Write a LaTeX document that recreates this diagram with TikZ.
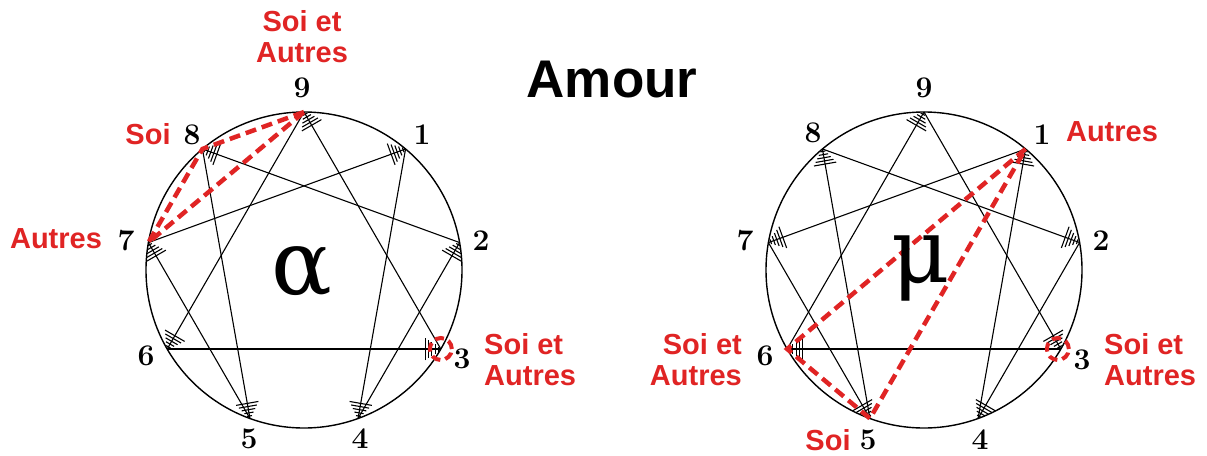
\documentclass[tikz,border=0pt]{standalone}
\usepackage{fontspec}
\usetikzlibrary{calc}
\newfontfamily\labfont{Liberation Sans}
\newfontfamily\grkfont{DejaVu Serif}
\definecolor{accred}{RGB}{224,36,36}
\tikzset{
  ring/.style={line width=1.4pt},
  chord/.style={line width=1.1pt},
  hatchline/.style={line width=1.1pt},
  redpath/.style={draw=accred, line width=4.5pt, dash pattern=on 11pt off 6pt, line join=miter},
  redring/.style={draw=accred, line width=4pt, dash pattern=on 9pt off 5pt},
  num/.style={font=\fontsize{30}{30}\bfseries\selectfont, inner sep=0pt},
  lab/.style={font=\labfont\bfseries\fontsize{29}{31}\selectfont, text=accred, inner sep=0pt},
  greek/.style={font=\grkfont\fontsize{90}{90}\selectfont, inner sep=0pt},
  titletext/.style={font=\labfont\bfseries\fontsize{53}{53}\selectfont, inner sep=0pt},
}
\newcommand\hatchat[2]{%
  \foreach \k in {0,...,4}{
    \coordinate (hm) at ($(#1)!{2.5pt+3.2pt*\k}!(#2)$);
    \draw[hatchline] ($(hm)!{2.5pt+2.2pt*\k}!90:(#2)$) -- ($(hm)!{2.5pt+2.2pt*\k}!-90:(#2)$);
  }}
\newcommand\arrowchord[2]{% from #1 to #2, hatch at #2
  \draw[chord] (#1) -- (#2);
  \hatchat{#2}{#1}}
\begin{document}
\begin{tikzpicture}[x=1pt, y=-1pt]
\useasboundingbox (0,0) rectangle (1207,455);
% vertices
\foreach \k in {1,...,9}{
  \coordinate (L\k) at ($(304,270)+(40*\k-90:158)$);
  \coordinate (R\k) at ($(924,270)+(40*\k-90:158)$);
}
% circles
\draw[ring] (304,270) circle[radius=158pt];
\draw[ring] (924,270) circle[radius=158pt];
% left figure chords
\arrowchord{L9}{L6}
\arrowchord{L6}{L3}
\arrowchord{L3}{L9}
\arrowchord{L1}{L4}
\arrowchord{L4}{L2}
\arrowchord{L2}{L8}
\arrowchord{L8}{L5}
\arrowchord{L5}{L7}
\arrowchord{L7}{L1}
% right figure chords
\arrowchord{R6}{R9}
\arrowchord{R3}{R6}
\arrowchord{R9}{R3}
\arrowchord{R4}{R1}
\arrowchord{R2}{R4}
\arrowchord{R8}{R2}
\arrowchord{R5}{R8}
\arrowchord{R7}{R5}
\arrowchord{R1}{R7}
% red marks
\draw[redpath] (L9) -- (L8) -- (L7) -- cycle;
\draw[redpath] (R1) -- (R6) -- (R5) -- cycle;
\draw[redring] (L3) circle[radius=11pt];
\draw[redring] ($(R3)+(-3,0)$) circle[radius=11pt];
% numbers
\node[num] (nL9) at (302,88) {9};
\node[num] (nL8) at (192,135) {8};
\node[num] (nL1) at (422,135) {1};
\node[num] (nL7) at (126,241) {7};
\node[num] (nL2) at (481,241) {2};
\node[num] (nL6) at (146,356) {6};
\node[num] (nL3) at (462,359) {3};
\node[num] (nL5) at (249,439) {5};
\node[num] (nL4) at (360,439) {4};
\node[num] (nR9) at (924,88) {9};
\node[num] (nR8) at (813,133) {8};
\node[num] (nR1) at (1042,135) {1};
\node[num] (nR7) at (745,241) {7};
\node[num] (nR2) at (1101,241) {2};
\node[num] (nR6) at (765,356) {6};
\node[num] (nR3) at (1082,360) {3};
\node[num] (nR5) at (868,440) {5};
\node[num] (nR4) at (980,440) {4};
% greek
\node[greek] (alpha) at (302,272) {α};
\node[greek] (mu) at (921,268) {μ};
% title
\node[titletext, anchor=base] (title) at (612,97) {Amour};
% red labels
\node[lab, align=center] (t9) at (302,37) {Soi et\\Autres};
\node[lab] (t8) at (148,134) {Soi};
\node[lab] (t7) at (56,239) {Autres};
\node[lab, align=left, anchor=west] (t3) at (484,360) {Soi et\\Autres};
\node[lab] (u1) at (1112,132) {Autres};
\node[lab, align=left, anchor=west] (u3) at (1104,360) {Soi et\\Autres};
\node[lab, align=right, anchor=east] (u6) at (742,360) {Soi et\\Autres};
\node[lab] (u5) at (828,440) {Soi};
\end{tikzpicture}
\end{document}
